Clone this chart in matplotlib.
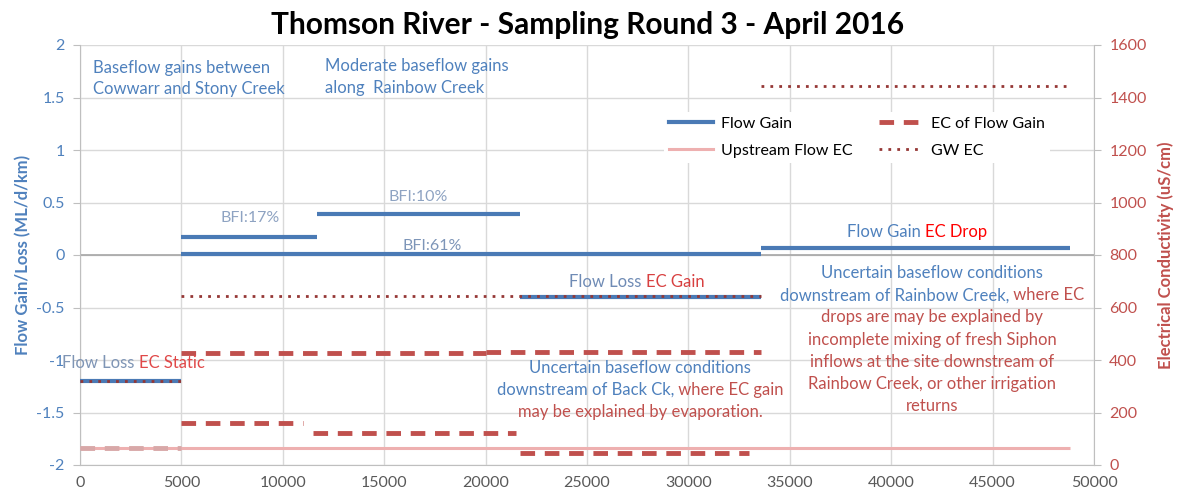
import matplotlib
matplotlib.use('Agg')
import matplotlib.pyplot as plt
from matplotlib.transforms import IdentityTransform
from matplotlib.lines import Line2D

# Flow gain/loss segments (left axis, ML/d/km)
flow_start = [0, 5000, 11700, 5000, 21700, 33600]
flow_end = [5000, 11700, 21700, 33600, 33600, 48800]
flow_val = [-1.2, 0.17, 0.39, 0.01, -0.4, 0.065]

# EC of flow gain segments (right axis, uS/cm)
ec_start = [5000, 11500, 5000, 20000, 21700]
ec_end = [11000, 21500, 20000, 33600, 33000]
ec_val = [160, 122, 425, 432, 45]
ec_static_start = [0]
ec_static_end = [5000]
ec_static_val = [65]

# Upstream flow EC
up_start = [0]
up_end = [48800]
up_val = [65]

# Groundwater EC
gw_start = [0, 5000, 33600]
gw_end = [5000, 33600, 48800]
gw_val = [320, 645, 1445]

W, H = 1183, 495
BLUE = '#4f81bd'
LINE_BLUE = '#4a7ab5'
RED = '#c0504d'
PINK = '#eeb0b0'
DARK_RED = '#953735'
GREY_TXT = '#595959'

plt.rcParams['font.family'] = ['Lato', 'DejaVu Sans']

fig = plt.figure(figsize=(W / 100, H / 100), dpi=100)
ax = fig.add_axes([80 / W, 1 - 465 / H, (1094 - 80) / W, 420 / H])
ax2 = ax.twinx()

for x0, x1, v in zip(flow_start, flow_end, flow_val):
    ax.plot([x0, x1], [v, v], color=LINE_BLUE, lw=3, solid_capstyle='butt', zorder=3)

for x0, x1, v in zip(up_start, up_end, up_val):
    ax2.plot([x0, x1], [v, v], color=PINK, lw=2.2, solid_capstyle='butt', zorder=2)
for x0, x1, v in zip(ec_static_start, ec_static_end, ec_static_val):
    ax2.plot([x0, x1], [v, v], color='#d8a8a8', lw=3.5, dashes=(3, 2), zorder=3)
for x0, x1, v in zip(ec_start, ec_end, ec_val):
    ax2.plot([x0, x1], [v, v], color=RED, lw=3.5, dashes=(3, 2), zorder=3)
for x0, x1, v in zip(gw_start, gw_end, gw_val):
    ax2.plot([x0, x1], [v, v], color=DARK_RED, lw=2, dashes=(1, 2.2), zorder=4)

ax.set_xlim(0, 50000)
ax.set_ylim(-2, 2)
ax.set_xticks(range(0, 50001, 5000))
ax.set_yticks([-2, -1.5, -1, -0.5, 0, 0.5, 1, 1.5, 2])
ax.set_yticklabels(['-2', '-1.5', '-1', '-0.5', '0', '0.5', '1', '1.5', '2'])
ax.grid(True, color='#d9d9d9', lw=1)
ax.set_axisbelow(True)
ax.axhline(0, color='#a6a6a6', lw=1.2, zorder=1)
ax2.set_ylim(0, 1600)
ax2.set_yticks(range(0, 1601, 200))

for a in (ax, ax2):
    for s in a.spines.values():
        s.set_color('#bfbfbf')
    a.spines['top'].set_visible(False)
ax2.spines['left'].set_visible(False)
ax2.spines['bottom'].set_visible(False)
ax.spines['right'].set_visible(False)

ax.tick_params(axis='x', colors='#bfbfbf', labelcolor=GREY_TXT, labelsize=11.5, length=0, pad=8)
ax.tick_params(axis='y', colors='#bfbfbf', labelcolor=BLUE, labelsize=11.5, length=5, pad=6)
ax2.tick_params(axis='y', colors='#bfbfbf', labelcolor=RED, labelsize=11.5, length=5, pad=6)

ax.set_ylabel('Flow Gain/Loss (ML/d/km)', color=BLUE, fontsize=12, fontweight='bold', labelpad=4)
ax2.set_ylabel('Electrical Conductivity (uS/cm)', color=RED, fontsize=12, fontweight='bold', labelpad=8)

fig.text(588 / W, 1 - 25 / H, 'Thomson River - Sampling Round 3 - April 2016',
         ha='center', va='center', fontsize=21.5, fontweight='bold', color='black')

handles = [
    Line2D([], [], color=LINE_BLUE, lw=3),
    Line2D([], [], color=PINK, lw=2.2),
    Line2D([], [], color=RED, lw=3.5, dashes=(3, 2)),
    Line2D([], [], color=DARK_RED, lw=2, dashes=(1, 2.2)),
]
labels = ['Flow Gain', 'Upstream Flow EC', 'EC of Flow Gain', 'GW EC']
leg = fig.legend(handles, labels, loc='upper left', bbox_to_anchor=(656 / W, 1 - 104 / H),
                 ncol=2, frameon=True, fontsize=11.5, handlelength=2.8, columnspacing=1.6,
                 handletextpad=0.5, labelspacing=0.8, borderpad=0.3)
leg.get_frame().set_facecolor('white')
leg.get_frame().set_edgecolor('none')
leg.get_frame().set_alpha(1)

renderer = fig.canvas.get_renderer()


def text_width(s, size):
    t = fig.text(0, 0, s + 'I', fontsize=size)
    w = t.get_window_extent(renderer).width
    t.remove()
    t = fig.text(0, 0, 'I', fontsize=size)
    w -= t.get_window_extent(renderer).width
    t.remove()
    return w


def rich_text(x, y, parts, size=12, center=False):
    full = ''.join(p[0] for p in parts)
    start = x - text_width(full, size) / 2 if center else x
    prefix = ''
    for s, c in parts:
        off = text_width(prefix, size) if prefix else 0
        fig.text(start + off, H - y, s, color=c, fontsize=size, va='center', ha='left',
                 transform=IdentityTransform(), zorder=10)
        prefix += s


rich_text(93, 68, [('Baseflow gains between', BLUE)])
rich_text(93, 89, [('Cowwarr and Stony Creek', BLUE)])
rich_text(325, 66, [('Moderate baseflow gains', BLUE)])
rich_text(325, 88, [('along  Rainbow Creek', BLUE)])

BFI_C = '#8ea3c2'
rich_text(220, 218, [('BFI:17%', BFI_C)], size=11.5)
rich_text(388, 197, [('BFI:10%', BFI_C)], size=11.5)
rich_text(403, 246, [('BFI:61%', '#7d95b8')], size=11.5)

rich_text(62, 363, [('Flow Loss ', '#7f95b5'), ('EC Static', '#e04848')])
rich_text(569, 282, [('Flow Loss ', '#6f8bb5'), ('EC Gain', '#d84040')])
rich_text(847, 232, [('Flow Gain ', BLUE), ('EC Drop', '#ff0000')])

back_lines = [
    [('Uncertain baseflow conditions', BLUE)],
    [('downstream of Back Ck,', BLUE), (' where EC gain', RED)],
    [('may be explained by evaporation.', RED)],
]
for i, ln in enumerate(back_lines):
    rich_text(640, 368 + i * 22, ln, center=True)

rain_lines = [
    [('Uncertain baseflow conditions', BLUE)],
    [('downstream of Rainbow Creek,', BLUE), (' where EC', RED)],
    [('drops are may be explained by', RED)],
    [('incomplete mixing of fresh Siphon', RED)],
    [('inflows at the site downstream of', RED)],
    [('Rainbow Creek, or other irrigation', RED)],
    [('returns', RED)],
]
for i, ln in enumerate(rain_lines):
    rich_text(932, 273 + i * 22.2, ln, center=True)

fig.savefig('out.png', dpi=100)
